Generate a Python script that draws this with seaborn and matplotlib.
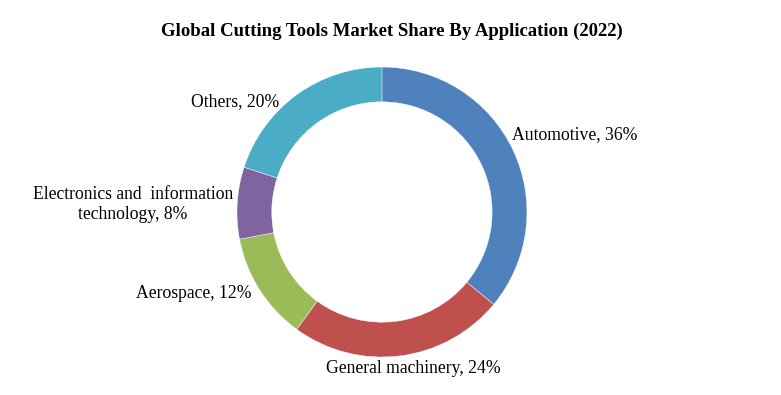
import seaborn as sns
import matplotlib.pyplot as plt

# 数据
categories = ["Automotive", "General machinery", "Aerospace",
              "Electronics and  information\ntechnology", "Others"]
shares = [36, 24, 12, 8, 20]
colors = ["#4F81BD", "#C0504D", "#9BBB59", "#8064A2", "#4BACC6"]
title = "Global Cutting Tools Market Share By Application (2022)"

sns.set_theme(style="white")
plt.rcParams['font.family'] = ['Liberation Serif', 'DejaVu Serif']

fig = plt.figure(figsize=(7.81, 3.95), dpi=100)
ax = fig.add_axes([0.257, 0.0044, 0.4641, 0.9177])

wedges, _ = ax.pie(shares, colors=sns.color_palette(colors), startangle=90,
                   counterclock=False, radius=1.0,
                   wedgeprops=dict(width=0.24, edgecolor="white", linewidth=0.3))
ax.set_xlim(-1.25, 1.25)
ax.set_ylim(-1.25, 1.25)
ax.set_aspect("equal")
ax.axis("off")

# 标签位置（单位为饼图半径），仿照 Excel 的 "best fit"
label_pos = [(0.897, 0.533), (0.214, -1.081), (-0.897, -0.562),
             (-1.028, 0.052), (-0.710, 0.760)]
label_ha = ["left", "center", "right", "right", "right"]
for name, val, (x, y), ha in zip(categories, shares, label_pos, label_ha):
    ax.text(x, y, f"{name}, {val}%", ha=ha, va="center", fontsize=12.7,
            multialignment="center", color="black")

fig.text(0.502, 0.921, title, ha="center", va="center",
         fontsize=13.5, fontweight="bold", color="black")

plt.savefig("out.png", dpi=100)
